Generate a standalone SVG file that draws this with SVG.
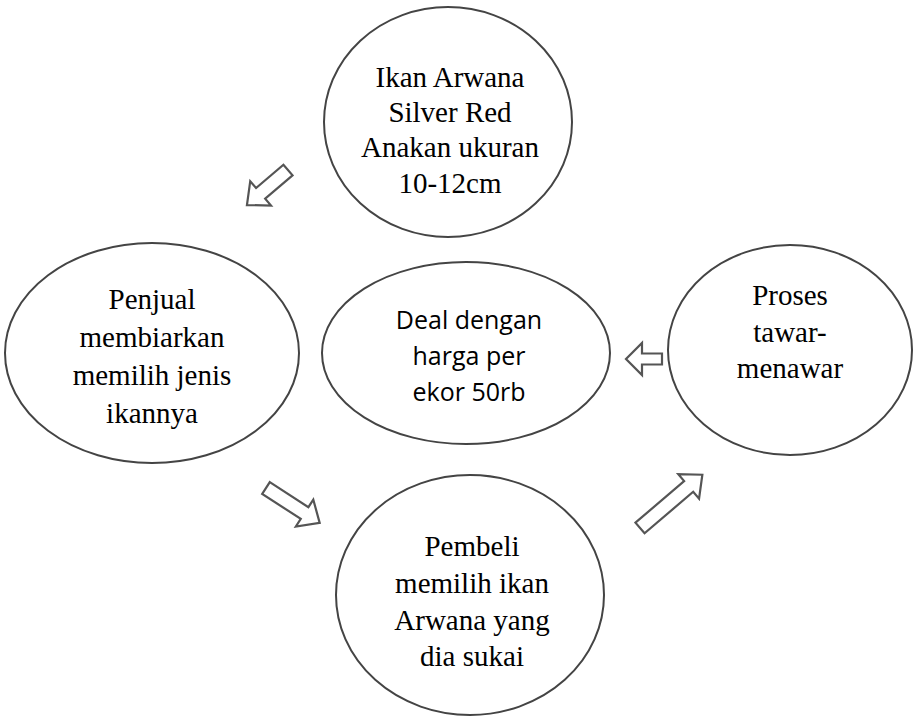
<svg xmlns="http://www.w3.org/2000/svg" width="917" height="720" viewBox="0 0 917 720">
<style>
.node ellipse{fill:#fff;stroke:#444;stroke-width:2}
.t{font-family:"Liberation Serif","Times New Roman",serif;font-size:29px;fill:#000;text-anchor:middle}
.c{font-family:"Open Sans","Noto Sans",sans-serif;font-size:25px;fill:#000;text-anchor:middle}
.arr{fill:#fff;stroke:#555;stroke-width:2.2;stroke-linejoin:miter}
</style>
<rect width="917" height="720" fill="#fff"/>
<g id="n-ikan" class="node">
<ellipse cx="448" cy="122" rx="124" ry="115"/>
<text class="t" x="450" y="87">Ikan Arwana</text>
<text class="t" x="450" y="122">Silver Red</text>
<text class="t" x="450" y="157">Anakan ukuran</text>
<text class="t" x="450" y="193">10-12cm</text>
</g>
<g id="n-penjual" class="node">
<ellipse cx="152" cy="353" rx="147" ry="110"/>
<text class="t" x="152" y="309">Penjual</text>
<text class="t" x="152" y="347">membiarkan</text>
<text class="t" x="152" y="385">memilih jenis</text>
<text class="t" x="152" y="423">ikannya</text>
</g>
<g id="n-deal" class="node">
<ellipse cx="466" cy="353" rx="144" ry="91"/>
<text class="c" x="469" y="329">Deal dengan</text>
<text class="c" x="469" y="365">harga per</text>
<text class="c" x="469" y="401">ekor 50rb</text>
</g>
<g id="n-proses" class="node">
<ellipse cx="790" cy="350" rx="122" ry="105"/>
<text class="t" x="790" y="305">Proses</text>
<text class="t" x="790" y="342">tawar-</text>
<text class="t" x="790" y="378">menawar</text>
</g>
<g id="n-pembeli" class="node">
<ellipse cx="470" cy="595" rx="134" ry="120"/>
<text class="t" x="472" y="556">Pembeli</text>
<text class="t" x="472" y="593">memilih ikan</text>
<text class="t" x="472" y="630">Arwana yang</text>
<text class="t" x="472" y="666">dia sukai</text>
</g>
<g id="connectors">
<path class="arr" transform="translate(288,170) rotate(139.5)" d="M0,-7 L36,-7 L36,-16 L54,0 L36,16 L36,7 L0,7 Z"/>
<path class="arr" transform="translate(266,488) rotate(33)" d="M0,-7 L46,-7 L46,-16 L64,0 L46,16 L46,7 L0,7 Z"/>
<path class="arr" transform="translate(662,359) rotate(180)" d="M0,-5.5 L20,-5.5 L20,-16 L36,0 L20,16 L20,5.5 L0,5.5 Z"/>
<path class="arr" transform="translate(640,528) rotate(-40.5)" d="M0,-7 L64,-7 L64,-16 L82,0 L64,16 L64,7 L0,7 Z"/>
</g>
</svg>
